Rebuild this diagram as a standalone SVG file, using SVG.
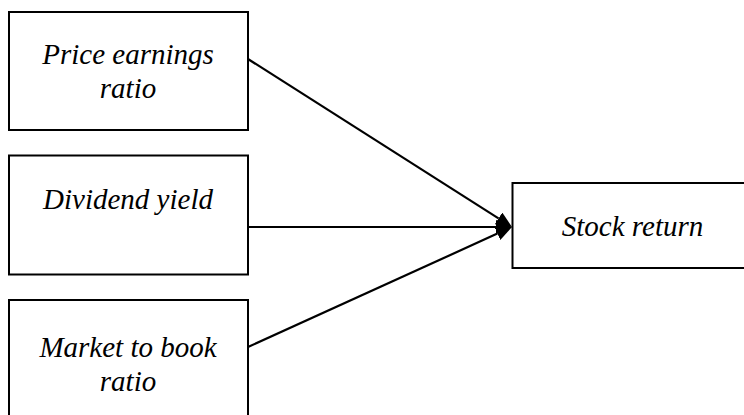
<svg xmlns="http://www.w3.org/2000/svg" width="744" height="415" viewBox="0 0 744 415">
<style>
.box{fill:#fff;stroke:#000;stroke-width:2}
.lbl{font-family:"Liberation Serif","Times New Roman",serif;font-style:italic;font-size:29px;fill:#000;text-anchor:middle}
.conn{stroke:#000;stroke-width:2.2;fill:none}
</style>
<defs>
<marker id="ah" viewBox="0 0 16 14" refX="0" refY="7" markerWidth="16" markerHeight="14" markerUnits="userSpaceOnUse" orient="auto">
<path d="M0,0 L16,7 L0,14 z" fill="#000"/>
</marker>
</defs>
<rect width="744" height="415" fill="#fff"/>
<g id="connectors">
<line class="conn" x1="248" y1="59" x2="498.5" y2="218.4" marker-end="url(#ah)"/>
<line class="conn" x1="248" y1="227" x2="496" y2="227" marker-end="url(#ah)"/>
<line class="conn" x1="248" y1="347" x2="497.4" y2="233.6" marker-end="url(#ah)"/>
</g>
<g id="pe">
<rect class="box" x="9" y="12" width="239" height="118"/>
<text class="lbl" x="128" y="64">Price earnings</text>
<text class="lbl" x="128" y="98">ratio</text>
</g>
<g id="dy">
<rect class="box" x="9" y="155.5" width="239" height="119"/>
<text class="lbl" x="128" y="209">Dividend yield</text>
</g>
<g id="mb">
<rect class="box" x="9" y="300" width="239" height="130"/>
<text class="lbl" x="128" y="357">Market to book</text>
<text class="lbl" x="128" y="391">ratio</text>
</g>
<g id="sr">
<rect class="box" x="512.5" y="183" width="250" height="85"/>
<text class="lbl" x="632.5" y="236">Stock return</text>
</g>
</svg>
